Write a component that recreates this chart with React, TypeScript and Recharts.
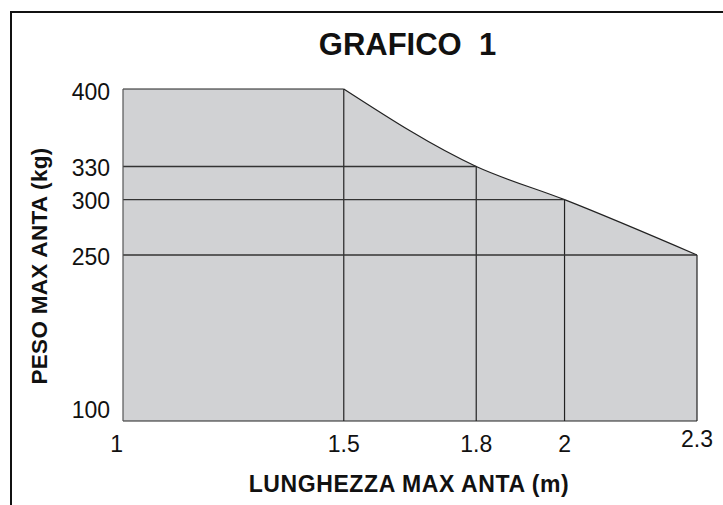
import React from 'react';
import { ComposedChart, Area, XAxis, YAxis, ReferenceLine, Customized } from 'recharts';

// Data
const lengths = [1, 1.5, 1.8, 2, 2.3];
const weights = [400, 400, 330, 300, 250];
const xTicks = [1, 1.5, 1.8, 2, 2.3];
const yTicks = [100, 250, 300, 330, 400];
const title = 'GRAFICO\u00a0\u00a01';
const xTitle = 'LUNGHEZZA MAX ANTA (m)';
const yTitle = 'PESO MAX ANTA (kg)';

const FLAT_END = 1.5;
const Y_MIN = 100;
const X_MIN = 1;

const data = lengths.map((x, i) => ({
  x,
  flat: x <= FLAT_END ? weights[i] : null,
  curve: x >= FLAT_END ? weights[i] : null,
}));

const breakpoints = lengths.map((x, i) => ({ x, y: weights[i] })).filter((p) => p.x >= FLAT_END);

const FONT = '"Liberation Sans", Arial, Helvetica, sans-serif';
const FILL = '#d1d2d4';
const LINE = '#222';

const XTick = (props: any) => {
  const { x, y, payload } = props;
  const v = payload.value;
  const anchor = v === X_MIN ? 'end' : 'middle';
  const dy = v === 2.3 ? 18 : 23;
  return (
    <text x={x} y={y + dy} textAnchor={anchor} fontFamily={FONT} fontSize={23} fill="#111">
      {String(v)}
    </text>
  );
};

const YTick = (props: any) => {
  const { y, payload } = props;
  const v = payload.value;
  const dy = v === Y_MIN ? -3 : v === 400 ? 11 : 9.5;
  return (
    <text x={110} y={y + dy} textAnchor="end" fontFamily={FONT} fontSize={23} fill="#111">
      {String(v)}
    </text>
  );
};

const Titles = () => (
  <g fontFamily={FONT} fontWeight="bold" fill="#111">
    <text x={407.5} y={55} textAnchor="middle" fontSize={31} style={{ whiteSpace: 'pre' }}>
      {title}
    </text>
    <text x={409} y={492} textAnchor="middle" fontSize={23} letterSpacing={0.6}>
      {xTitle}
    </text>
    <text
      x={0}
      y={0}
      textAnchor="middle"
      fontSize={22.5}
      letterSpacing={0.3}
      transform="translate(46.5,266) rotate(-90)"
    >
      {yTitle}
    </text>
  </g>
);

export default function App() {
  return (
    <div style={{ position: 'absolute', left: 0, top: 0, width: 723, height: 505, background: '#fff', overflow: 'hidden' }}>
      <div
        style={{
          position: 'absolute',
          left: 10,
          top: 11,
          width: 760,
          height: 560,
          border: '2.5px solid #111',
          boxSizing: 'border-box',
        }}
      />
      <div style={{ position: 'absolute', left: 0, top: 0 }}>
        <ComposedChart width={723} height={505} data={data} margin={{ top: 89, right: 26, bottom: 0, left: 0 }}>
          <XAxis
            dataKey="x"
            type="number"
            domain={[1, 2.3]}
            ticks={xTicks}
            tick={<XTick />}
            tickLine={false}
            axisLine={{ stroke: LINE, strokeWidth: 1.2 }}
            height={84}
            interval={0}
          />
          <YAxis
            type="number"
            domain={[100, 400]}
            ticks={yTicks}
            tick={<YTick />}
            tickLine={false}
            axisLine={{ stroke: '#555', strokeWidth: 1.2 }}
            width={123}
            interval={0}
          />
          <Area
            dataKey="flat"
            type="linear"
            fill={FILL}
            fillOpacity={1}
            stroke={LINE}
            strokeWidth={1.2}
            isAnimationActive={false}
            connectNulls={false}
            dot={false}
            activeDot={false}
          />
          <Area
            dataKey="curve"
            type="monotone"
            fill={FILL}
            fillOpacity={1}
            stroke={LINE}
            strokeWidth={1.2}
            isAnimationActive={false}
            connectNulls={false}
            dot={false}
            activeDot={false}
          />
          {breakpoints.map((p) => (
            <ReferenceLine
              key={'v' + p.x}
              segment={[
                { x: p.x, y: Y_MIN },
                { x: p.x, y: p.y },
              ]}
              stroke={LINE}
              strokeWidth={1.2}
              ifOverflow="visible"
            />
          ))}
          {breakpoints.slice(1).map((p) => (
            <ReferenceLine
              key={'h' + p.y}
              segment={[
                { x: X_MIN, y: p.y },
                { x: p.x, y: p.y },
              ]}
              stroke="#333"
              strokeWidth={1.4}
              ifOverflow="visible"
            />
          ))}
          <Customized component={Titles} />
        </ComposedChart>
      </div>
    </div>
  );
}
